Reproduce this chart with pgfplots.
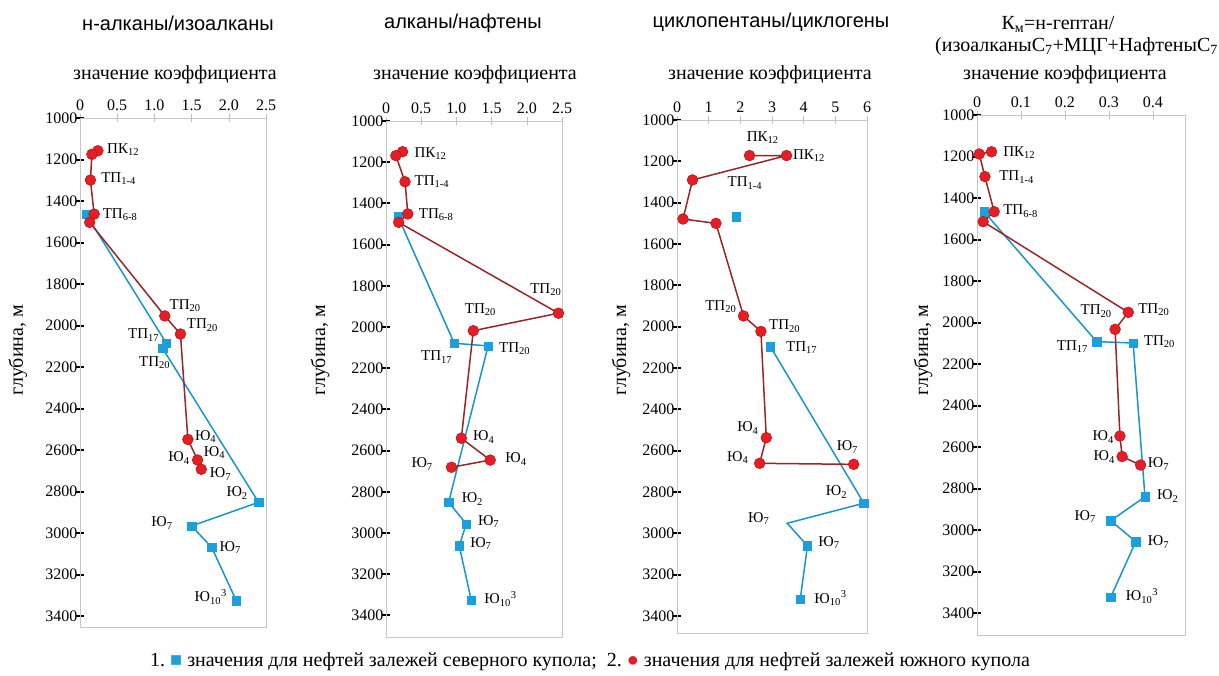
\documentclass[border=0pt]{standalone}
\usepackage{pgfplots}
\pgfplotsset{compat=1.18}
\usepackage{fontspec}
\setmainfont{Liberation Serif}
\newfontfamily\sansf{Liberation Sans}
\definecolor{cblue}{RGB}{27,160,222}
\definecolor{cblueline}{RGB}{25,150,200}
\definecolor{cred}{RGB}{232,28,36}
\definecolor{credline}{RGB}{150,38,42}
\definecolor{credge}{RGB}{175,20,25}
\newcommand{\lblfont}{\fontsize{15}{15}\selectfont}
\newcommand{\lab}[4]{\node[anchor=#1,font=\lblfont,inner sep=1pt] at (axis cs:#2,#3) {#4};}
\newcommand{\TP}[1]{ТП\textsubscript{#1}}
\newcommand{\PK}{ПК\textsubscript{12}}
\newcommand{\YU}[1]{Ю\textsubscript{#1}}
\newcommand{\YUt}{Ю\textsubscript{10}\textsuperscript{3}}
\pgfplotsset{
  panel/.style={
    scale only axis, anchor=center, y dir=reverse, clip=false,
    axis line style={gray!45, line width=0.8pt},
    xtick pos=right, xticklabel pos=right,
    ytick pos=left, yticklabel pos=left,
    tick align=center, major tick length=8pt,
    ytick style={black, line width=2pt},
    xtick style={gray!50, line width=0.6pt},
    ymin=1000,
    ytick={1000,1200,...,3400},
    yticklabels={1000,1200,1400,1600,1800,2000,2200,2400,2600,2800,3000,3200,3400},
    tick label style={font=\fontsize{16}{16}\selectfont},
    yticklabel style={xshift=5pt},
  },
  bl/.style={color=cblueline, line width=1.5pt, mark=square*, mark size=4.2pt,
    mark options={fill=cblue, draw=cblue, line width=0.4pt}},
  rd/.style={color=credline, line width=1.5pt, mark=*, mark size=5.4pt,
    mark options={fill=cred, draw=credge, line width=0.5pt}},
}
\begin{document}
\begin{tikzpicture}
\useasboundingbox (0pt,0pt) rectangle (1219pt,-676pt);
% titles
\node[font=\sansf\fontsize{20}{20}\selectfont] at (178pt,-23pt) {н-алканы/изоалканы};
\node[font=\sansf\fontsize{20}{20}\selectfont] at (463pt,-23pt) {алканы/нафтены};
\node[font=\sansf\fontsize{20}{20}\selectfont] at (771pt,-22pt) {циклопентаны/циклогены};
\node[font=\fontsize{20}{20}\selectfont] at (1058pt,-24pt) {К\textsubscript{м}=н-гептан/};
\node[font=\fontsize{20}{20}\selectfont, anchor=west, inner sep=0pt] at (935pt,-47pt) {(изоалканыС\textsubscript{7}+МЦГ+НафтеныС\textsubscript{7}};
\foreach \xx in {175,475,770,1065}{
  \node[font=\fontsize{20}{20}\selectfont] at (\xx pt,-75pt) {значение коэффициента};
}
\foreach \xx in {18,320,621,923}{
  \node[font=\fontsize{20}{20}\selectfont, rotate=90] at (\xx pt,-350pt) {глубина, м};
}
% ---------------- panel 1
\begin{axis}[panel, at={(173pt,-372.5pt)}, width=186pt, height=509pt,
  xmin=0, xmax=2.5, ymax=3453,
  xtick={0,0.5,1,1.5,2,2.5}, xticklabels={0,0.5,1.0,1.5,2.0,2.5}]
\addplot[bl] coordinates {(0.08,1463) (1.16,2085) (1.11,2110) (2.40,2852) (1.50,2966) (1.77,3069) (2.10,3326)};
\addplot[rd] coordinates {(0.24,1158) (0.16,1175) (0.14,1299) (0.19,1463) (0.13,1503) (1.14,1954) (1.35,2041) (1.45,2549) (1.58,2648) (1.63,2693)};
\lab{west}{0.35}{1152}{\PK}
\lab{west}{0.27}{1291}{\TP{1-4}}
\lab{west}{0.29}{1467}{\TP{6-8}}
\lab{west}{1.19}{1906}{\TP{20}}
\lab{west}{1.42}{1998}{\TP{20}}
\lab{east}{1.08}{2046}{\TP{17}}
\lab{west}{0.78}{2180}{\TP{20}}
\lab{west}{1.53}{2537}{\YU{4}}
\lab{west}{1.65}{2614}{\YU{4}}
\lab{east}{1.49}{2639}{\YU{4}}
\lab{west}{1.73}{2716}{\YU{7}}
\lab{east}{2.27}{2807}{\YU{2}}
\lab{east}{1.26}{2952}{\YU{7}}
\lab{west}{1.86}{3072}{\YU{7}}
\lab{east}{1.99}{3308}{\YUt}
\end{axis}
% ---------------- panel 2
\begin{axis}[panel, at={(474pt,-379pt)}, width=176pt, height=516pt,
  xmin=0, xmax=2.5, ymax=3505,
  xtick={0,0.5,1,1.5,2,2.5}, xticklabels={0,0.5,1.0,1.5,2.0,2.5}]
\addplot[bl] coordinates {(0.17,1464) (0.97,2079) (1.45,2092) (0.89,2851) (1.14,2956) (1.04,3062) (1.21,3325)};
\addplot[rd] coordinates {(0.235,1149) (0.14,1168) (0.27,1295) (0.31,1451) (0.18,1492) (2.45,1933) (1.24,2018) (1.07,2540) (1.48,2646) (0.93,2681)};
\lab{west}{0.39}{1160}{\PK}
\lab{west}{0.39}{1296}{\TP{1-4}}
\lab{west}{0.45}{1456}{\TP{6-8}}
\lab{center}{2.27}{1820}{\TP{20}}
\lab{center}{1.34}{1917}{\TP{20}}
\lab{west}{1.59}{2107}{\TP{20}}
\lab{center}{0.72}{2146}{\TP{17}}
\lab{west}{1.22}{2534}{\YU{4}}
\lab{west}{1.68}{2641}{\YU{4}}
\lab{east}{0.68}{2665}{\YU{7}}
\lab{west}{1.06}{2835}{\YU{2}}
\lab{west}{1.29}{2945}{\YU{7}}
\lab{west}{1.18}{3053}{\YU{7}}
\lab{west}{1.38}{3320}{\YUt}
\end{axis}
% ---------------- panel 3
\begin{axis}[panel, at={(772pt,-376.5pt)}, width=190pt, height=513pt,
  xmin=0, xmax=6, ymax=3482,
  xtick={0,1,...,6}, xticklabels={0,1,2,3,4,5,6}]
\addplot[bl, only marks] coordinates {(1.87,1468)};
\addplot[bl, mark indices={1,2,4,5}] coordinates {(2.95,2097) (5.90,2854) (3.48,2951) (4.12,3060) (3.89,3319)};
\addplot[rd] coordinates {(2.29,1172) (3.46,1172) (0.49,1290) (0.19,1479) (1.23,1500) (2.10,1948) (2.65,2023) (2.82,2537) (2.61,2661) (5.58,2666)};
\lab{center}{2.71}{1087}{\PK}
\lab{west}{3.63}{1174}{\PK}
\lab{west}{1.56}{1305}{\TP{1-4}}
\lab{east}{1.91}{1905}{\TP{20}}
\lab{west}{2.87}{1997}{\TP{20}}
\lab{west}{3.41}{2103}{\TP{17}}
\lab{east}{2.61}{2490}{\YU{4}}
\lab{east}{2.29}{2635}{\YU{4}}
\lab{center}{5.38}{2582}{\YU{7}}
\lab{east}{5.41}{2800}{\YU{2}}
\lab{center}{2.58}{2930}{\YU{7}}
\lab{west}{4.43}{3046}{\YU{7}}
\lab{west}{4.30}{3313}{\YUt}
\end{axis}
% ---------------- panel 4
\begin{axis}[panel, at={(1081pt,-375pt)}, width=208pt, height=520pt,
  xmin=0, xmax=0.473, ymax=3506,
  xtick={0,0.1,0.2,0.3,0.4}, xticklabels={0,0.1,0.2,0.3,0.4}]
\addplot[bl] coordinates {(0.016,1466) (0.272,2092) (0.355,2099) (0.382,2840) (0.304,2955) (0.361,3056) (0.304,3324)};
\addplot[rd] coordinates {(0.033,1177) (0.005,1188) (0.018,1297) (0.039,1466) (0.014,1514) (0.344,1951) (0.314,2033) (0.325,2547) (0.330,2646) (0.372,2687)};
\lab{west}{0.057}{1180}{\PK}
\lab{west}{0.048}{1299}{\TP{1-4}}
\lab{west}{0.057}{1463}{\TP{6-8}}
\lab{east}{0.309}{1945}{\TP{20}}
\lab{west}{0.364}{1940}{\TP{20}}
\lab{east}{0.255}{2118}{\TP{17}}
\lab{west}{0.377}{2094}{\TP{20}}
\lab{east}{0.314}{2552}{\YU{4}}
\lab{east}{0.316}{2648}{\YU{4}}
\lab{west}{0.386}{2682}{\YU{7}}
\lab{west}{0.407}{2836}{\YU{2}}
\lab{east}{0.273}{2937}{\YU{7}}
\lab{west}{0.386}{3058}{\YU{7}}
\lab{west}{0.336}{3318}{\YUt}
\end{axis}
% legend
\node[font=\fontsize{20}{20}\selectfont, anchor=west, inner sep=0pt] at (150pt,-662pt)
  {1.\ \textcolor{cblue}{■}\ значения для нефтей залежей северного купола;\ \ 2.\ \textcolor{cred}{●}\ значения для нефтей залежей южного купола};
\end{tikzpicture}
\end{document}
